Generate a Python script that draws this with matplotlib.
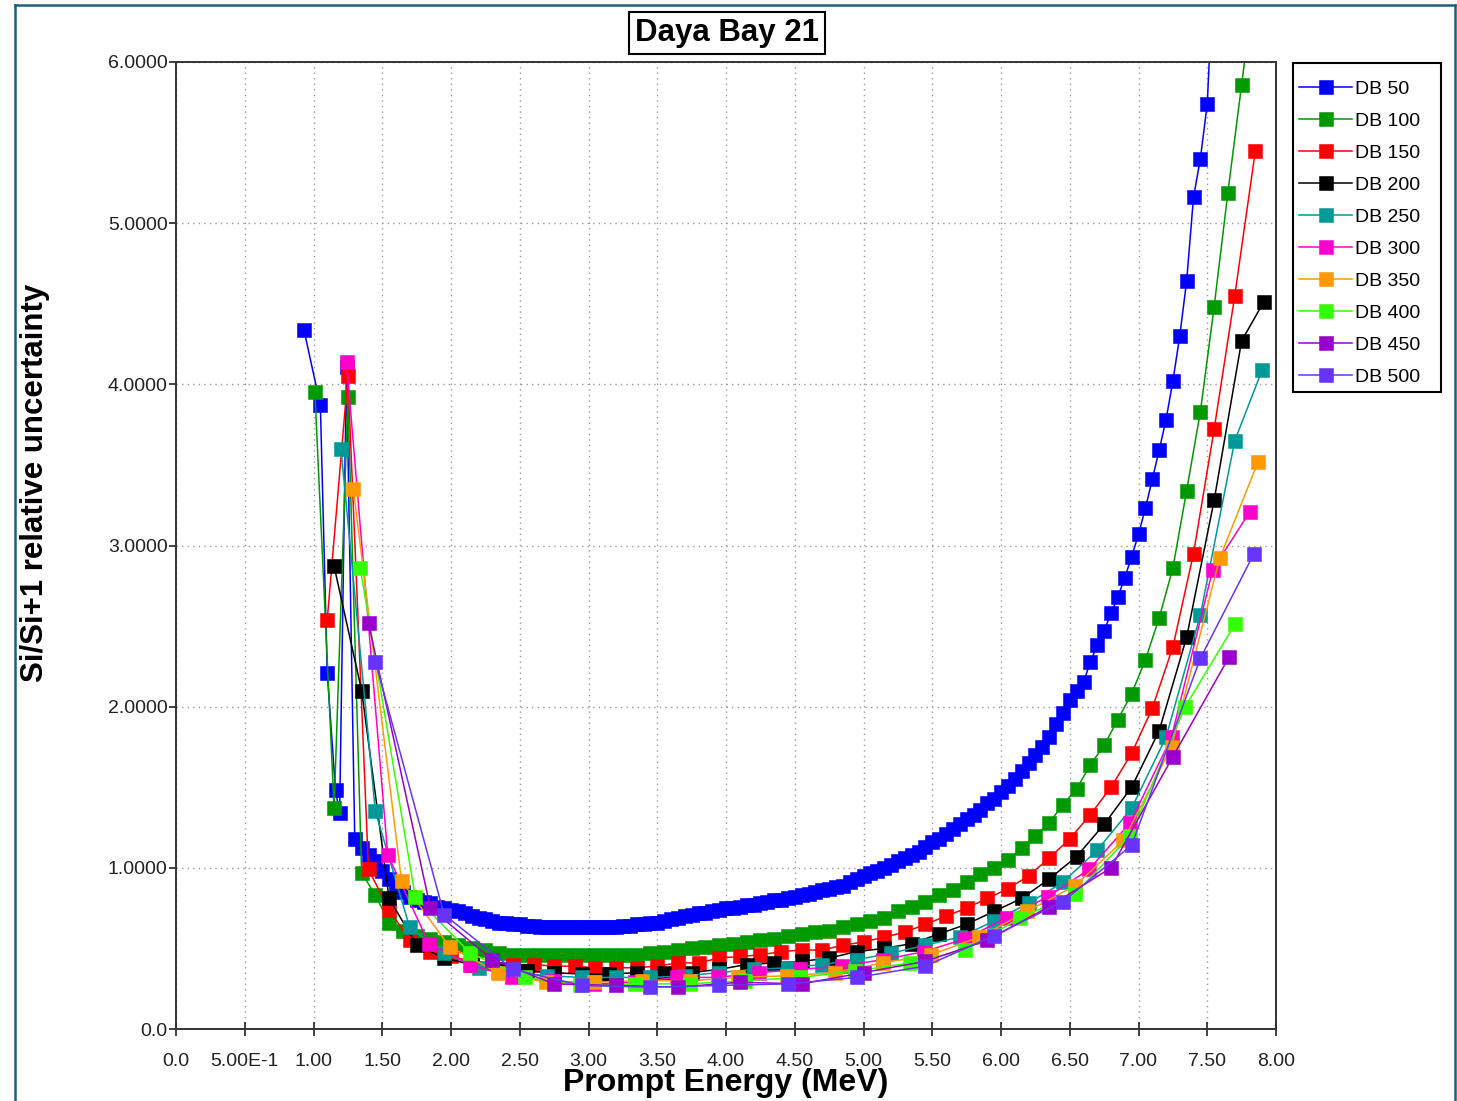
import matplotlib
matplotlib.use('Agg')
import matplotlib.pyplot as plt
from matplotlib.lines import Line2D
from matplotlib.patches import Rectangle

# ---- data (prompt energy in MeV, relative uncertainty) ----
db50_x = [0.93, 1.05, 1.10, 1.16, 1.19, 1.24,
          1.30, 1.35, 1.40, 1.45, 1.50, 1.55, 1.60, 1.65, 1.70, 1.75,
          1.80, 1.85, 1.90, 1.95, 2.00, 2.05, 2.10, 2.15, 2.20, 2.25,
          2.30, 2.35, 2.40, 2.45, 2.50, 2.55, 2.60, 2.65, 2.70, 2.75,
          2.80, 2.85, 2.90, 2.95, 3.00, 3.05, 3.10, 3.15, 3.20, 3.25,
          3.30, 3.35, 3.40, 3.45, 3.50, 3.55, 3.60, 3.65, 3.70, 3.75,
          3.80, 3.85, 3.90, 3.95, 4.00, 4.05, 4.10, 4.15, 4.20, 4.25,
          4.30, 4.35, 4.40, 4.45, 4.50, 4.55, 4.60, 4.65, 4.70, 4.75,
          4.80, 4.85, 4.90, 4.95, 5.00, 5.05, 5.10, 5.15, 5.20, 5.25,
          5.30, 5.35, 5.40, 5.45, 5.50, 5.55, 5.60, 5.65, 5.70, 5.75,
          5.80, 5.85, 5.90, 5.95, 6.00, 6.05, 6.10, 6.15, 6.20, 6.25,
          6.30, 6.35, 6.40, 6.45, 6.50, 6.55, 6.60, 6.65, 6.70, 6.75,
          6.80, 6.85, 6.90, 6.95, 7.00, 7.05, 7.10, 7.15, 7.20, 7.25,
          7.30, 7.35, 7.40, 7.45, 7.50, 7.55]
db50_y = [4.34, 3.87, 2.21, 1.48, 1.34, 4.11,
          1.18, 1.12, 1.08, 1.04, 0.98, 0.93, 0.88, 0.85, 0.82, 0.80,
          0.79, 0.78, 0.76, 0.75, 0.74, 0.73, 0.72, 0.70, 0.69, 0.68,
          0.67, 0.66, 0.66, 0.65, 0.65, 0.64, 0.64, 0.63, 0.63, 0.63,
          0.63, 0.63, 0.63, 0.63, 0.63, 0.63, 0.63, 0.63, 0.63, 0.64,
          0.64, 0.65, 0.65, 0.66, 0.66, 0.67, 0.68, 0.69, 0.70, 0.71,
          0.72, 0.72, 0.73, 0.74, 0.75, 0.75, 0.76, 0.77, 0.77, 0.78,
          0.79, 0.80, 0.80, 0.81, 0.82, 0.83, 0.84, 0.85, 0.86, 0.87,
          0.88, 0.89, 0.91, 0.93, 0.95, 0.97, 0.98, 1.00, 1.02, 1.04,
          1.06, 1.08, 1.10, 1.13, 1.16, 1.18, 1.21, 1.24, 1.27, 1.30,
          1.33, 1.36, 1.40, 1.43, 1.47, 1.51, 1.55, 1.60, 1.65, 1.70,
          1.75, 1.81, 1.89, 1.96, 2.04, 2.10, 2.15, 2.28, 2.38, 2.47,
          2.58, 2.68, 2.80, 2.93, 3.07, 3.23, 3.41, 3.59, 3.78, 4.02,
          4.30, 4.64, 5.16, 5.40, 5.74, 6.65]

db100_x = [1.01, 1.15, 1.25,
           1.35, 1.45, 1.55, 1.65, 1.75, 1.85, 1.95, 2.05, 2.15, 2.25,
           2.35, 2.45, 2.55, 2.65, 2.75, 2.85, 2.95, 3.05, 3.15, 3.25,
           3.35, 3.45, 3.55, 3.65, 3.75, 3.85, 3.95, 4.05, 4.15, 4.25,
           4.35, 4.45, 4.55, 4.65, 4.75, 4.85, 4.95, 5.05, 5.15, 5.25,
           5.35, 5.45, 5.55, 5.65, 5.75, 5.85, 5.95, 6.05, 6.15, 6.25,
           6.35, 6.45, 6.55, 6.65, 6.75, 6.85, 6.95, 7.05, 7.15, 7.25,
           7.35, 7.45, 7.55, 7.65, 7.75, 7.85]
db100_y = [3.95, 1.37, 3.92,
           0.97, 0.83, 0.66, 0.61, 0.58, 0.56, 0.54, 0.52, 0.50, 0.49,
           0.47, 0.46, 0.46, 0.46, 0.46, 0.46, 0.46, 0.46, 0.46, 0.46,
           0.46, 0.47, 0.48, 0.49, 0.50, 0.51, 0.52, 0.53, 0.54, 0.55,
           0.56, 0.58, 0.59, 0.60, 0.61, 0.63, 0.65, 0.67, 0.69, 0.73,
           0.76, 0.79, 0.83, 0.86, 0.91, 0.96, 1.00, 1.05, 1.12, 1.20,
           1.28, 1.39, 1.49, 1.64, 1.76, 1.92, 2.08, 2.29, 2.55, 2.86,
           3.34, 3.83, 4.48, 5.19, 5.86, 6.52]

db150_x = [1.10, 1.25, 1.40, 1.55, 1.70, 1.85, 2.00, 2.15, 2.30, 2.45,
           2.60, 2.75, 2.90, 3.05, 3.20, 3.35, 3.50, 3.65, 3.80, 3.95,
           4.10, 4.25, 4.40, 4.55, 4.70, 4.85, 5.00, 5.15, 5.30, 5.45,
           5.60, 5.75, 5.90, 6.05, 6.20, 6.35, 6.50, 6.65, 6.80, 6.95,
           7.10, 7.25, 7.40, 7.55, 7.70, 7.85]
db150_y = [2.54, 4.05, 0.99, 0.74, 0.55, 0.48, 0.45, 0.42, 0.41, 0.40,
           0.40, 0.39, 0.39, 0.38, 0.38, 0.38, 0.39, 0.41, 0.41, 0.44,
           0.45, 0.46, 0.48, 0.49, 0.49, 0.52, 0.54, 0.57, 0.60, 0.65,
           0.70, 0.75, 0.81, 0.87, 0.95, 1.06, 1.18, 1.33, 1.50, 1.71,
           1.99, 2.37, 2.95, 3.72, 4.55, 5.45]

db200_x = [1.15, 1.35, 1.55, 1.75, 1.95, 2.15, 2.35, 2.55, 2.75, 2.95,
           3.15, 3.35, 3.55, 3.75, 3.95, 4.15, 4.35, 4.55, 4.75, 4.95,
           5.15, 5.35, 5.55, 5.75, 5.95, 6.15, 6.35, 6.55, 6.75, 6.95,
           7.15, 7.35, 7.55, 7.75, 7.91]
db200_y = [2.87, 2.10, 0.81, 0.52, 0.44, 0.40, 0.37, 0.36, 0.35, 0.34,
           0.34, 0.35, 0.35, 0.35, 0.37, 0.40, 0.41, 0.42, 0.44, 0.48,
           0.50, 0.53, 0.59, 0.65, 0.73, 0.81, 0.93, 1.07, 1.27, 1.50,
           1.85, 2.43, 3.28, 4.27, 4.51]

db250_x = [1.20, 1.45, 1.70, 1.95, 2.20, 2.45, 2.70, 2.95, 3.20, 3.45,
           3.70, 3.95, 4.20, 4.45, 4.70, 4.95, 5.20, 5.45, 5.70, 5.95,
           6.20, 6.45, 6.70, 6.95, 7.20, 7.45, 7.70, 7.90]
db250_y = [3.60, 1.35, 0.63, 0.47, 0.38, 0.35, 0.33, 0.32, 0.32, 0.32,
           0.33, 0.35, 0.37, 0.38, 0.40, 0.43, 0.47, 0.52, 0.57, 0.67,
           0.78, 0.91, 1.11, 1.37, 1.81, 2.57, 3.65, 4.09]

db300_x = [1.24, 1.54, 1.84, 2.14, 2.44, 2.74, 3.04, 3.34, 3.64, 3.94,
           4.24, 4.54, 4.84, 5.14, 5.44, 5.74, 6.04, 6.34, 6.64, 6.94,
           7.24, 7.54, 7.81]
db300_y = [4.14, 1.08, 0.53, 0.40, 0.32, 0.30, 0.28, 0.29, 0.32, 0.32,
           0.35, 0.37, 0.39, 0.43, 0.48, 0.56, 0.69, 0.82, 0.99, 1.28,
           1.81, 2.85, 3.21]

db350_x = [1.29, 1.64, 1.99, 2.34, 2.69, 3.04, 3.39, 3.74, 4.09, 4.44,
           4.79, 5.14, 5.49, 5.84, 6.19, 6.54, 6.89, 7.24, 7.59, 7.87]
db350_y = [3.35, 0.92, 0.51, 0.35, 0.29, 0.29, 0.30, 0.30, 0.32, 0.33,
           0.35, 0.41, 0.46, 0.57, 0.73, 0.89, 1.17, 1.75, 2.92, 3.52]

db400_x = [1.34, 1.74, 2.14, 2.54, 2.94, 3.34, 3.74, 4.14, 4.54, 4.94,
           5.34, 5.74, 6.14, 6.54, 6.94, 7.34, 7.70]
db400_y = [2.86, 0.82, 0.47, 0.32, 0.27, 0.28, 0.28, 0.30, 0.32, 0.36,
           0.41, 0.49, 0.69, 0.84, 1.20, 2.00, 2.51]

db450_x = [1.40, 1.85, 2.30, 2.75, 3.20, 3.65, 4.10, 4.55, 5.00, 5.45,
           5.90, 6.35, 6.80, 7.25, 7.66]
db450_y = [2.52, 0.75, 0.43, 0.28, 0.27, 0.26, 0.29, 0.28, 0.35, 0.42,
           0.55, 0.76, 1.00, 1.69, 2.31]

db500_x = [1.45, 1.95, 2.45, 2.95, 3.45, 3.95, 4.45, 4.95, 5.45, 5.95,
           6.45, 6.95, 7.45, 7.84]
db500_y = [2.28, 0.71, 0.37, 0.27, 0.26, 0.27, 0.28, 0.32, 0.39, 0.58,
           0.79, 1.14, 2.30, 2.95]

labels = ['DB 50', 'DB 100', 'DB 150', 'DB 200', 'DB 250',
          'DB 300', 'DB 350', 'DB 400', 'DB 450', 'DB 500']
colors = ['#0000ff', '#009900', '#ff0000', '#000000', '#009999',
          '#ff00cc', '#ff9900', '#33ff00', '#9900cc', '#6633ff']
xs = [db50_x, db100_x, db150_x, db200_x, db250_x,
      db300_x, db350_x, db400_x, db450_x, db500_x]
ys = [db50_y, db100_y, db150_y, db200_y, db250_y,
      db300_y, db350_y, db400_y, db450_y, db500_y]

x_ticks = [0.0, 0.5, 1.0, 1.5, 2.0, 2.5, 3.0, 3.5, 4.0, 4.5, 5.0, 5.5,
           6.0, 6.5, 7.0, 7.5, 8.0]
x_tick_labels = ['0.0', '5.00E-1', '1.00', '1.50', '2.00', '2.50', '3.00',
                 '3.50', '4.00', '4.50', '5.00', '5.50', '6.00', '6.50',
                 '7.00', '7.50', '8.00']
y_ticks = [0, 1, 2, 3, 4, 5, 6]
y_tick_labels = ['0.0', '1.0000', '2.0000', '3.0000', '4.0000',
                 '5.0000', '6.0000']

plt.rcParams['font.family'] = ['Liberation Sans', 'DejaVu Sans']

W, H = 1457, 1101
fig = plt.figure(figsize=(W / 100, H / 100), dpi=100)
fig.patch.set_facecolor('white')

# plot area in pixel coords of the screenshot
left, right, top, bottom = 176, 1276, 62, 1029
ax = fig.add_axes([left / W, 1 - bottom / H, (right - left) / W, (bottom - top) / H])

for x, y, c, lab in zip(xs, ys, colors, labels):
    ax.plot(x, y, color=c, lw=1.1, marker='s', markersize=9.5,
            markerfacecolor=c, markeredgecolor=c, markeredgewidth=0.4,
            label=lab)

ax.set_xlim(0, 8)
ax.set_ylim(0, 6)
ax.set_xticks(x_ticks)
ax.set_xticklabels(x_tick_labels, fontsize=14)
ax.set_yticks(y_ticks)
ax.set_yticklabels(y_tick_labels, fontsize=14)
ax.tick_params(axis='x', direction='inout', length=10, width=1.2, pad=12, colors='#222222')
ax.tick_params(axis='y', direction='out', length=5, width=1.2, pad=1, colors='#222222')
ax.grid(True, linestyle=(0, (1, 3)), color='#999999', lw=1)
for s in ax.spines.values():
    s.set_linewidth(1.4)
    s.set_color('#333333')

# legend: entries without frame, frame drawn as a separate box
leg = ax.legend(loc='upper left', bbox_to_anchor=(1299 / W, 1 - 80 / H),
                bbox_transform=fig.transFigure, borderaxespad=0,
                fontsize=14, frameon=False, handlelength=2.75,
                handletextpad=0.15, labelspacing=0.74, borderpad=0)
fig.add_artist(Rectangle((1293 / W, 1 - 392 / H), 148 / W, 329 / H,
                         transform=fig.transFigure, fill=False,
                         edgecolor='black', lw=1.5))

# title in a box, axis labels
fig.text(727 / W, 1 - 33 / H, 'Daya Bay 21', ha='center', va='center',
         fontsize=22.5, fontweight='bold',
         bbox=dict(boxstyle='square,pad=0.18', fc='white', ec='black', lw=1.5))
fig.text(726 / W, 1 - 1083 / H, 'Prompt Energy (MeV)', ha='center', va='center',
         fontsize=23, fontweight='bold')
fig.text(35 / W, 1 - 483 / H, 'Si/Si+1 relative uncertainty', ha='center',
         va='center', rotation=90, fontsize=22.5, fontweight='bold')

# window border of the screenshot
border = '#1f5f7a'
fig.add_artist(Line2D([15 / W, 15 / W], [0, 1 - 5 / H], color=border, lw=1.8))
fig.add_artist(Line2D([15 / W, 1455 / W], [1 - 5 / H, 1 - 5 / H], color=border, lw=1.8))
fig.add_artist(Line2D([1455 / W, 1455 / W], [0, 1 - 5 / H], color=border, lw=1.8))

fig.savefig('out.png', dpi=100)
